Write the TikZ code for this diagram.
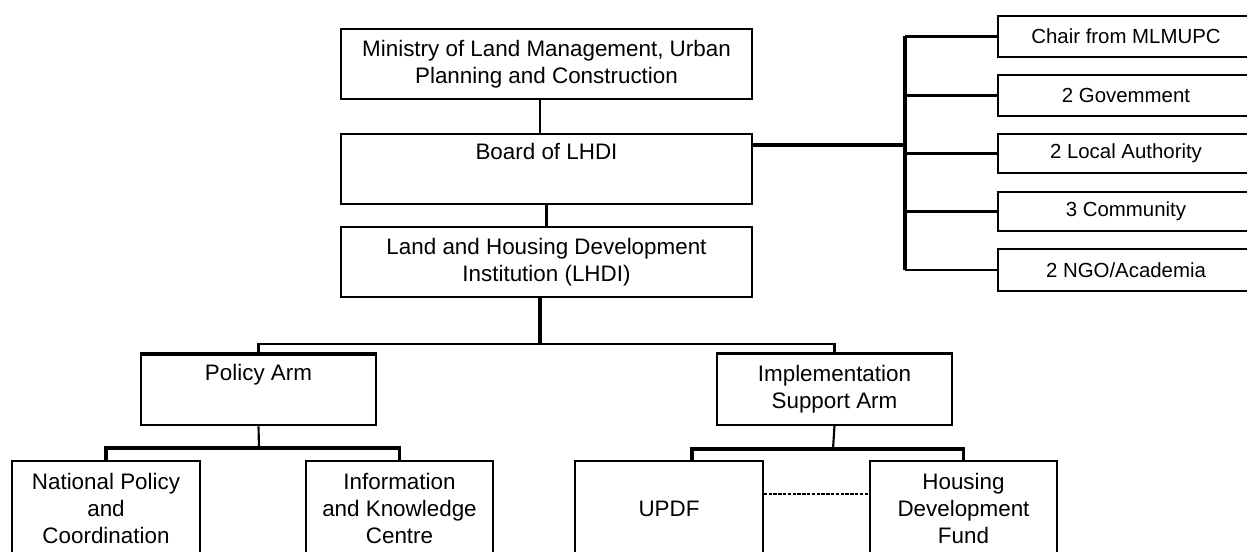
\documentclass[tikz,border=0pt]{standalone}
\usepackage{fontspec}
\setmainfont{Liberation Sans}
\begin{document}
\begin{tikzpicture}[x=0.75pt,y=-0.75pt,
  box/.style={draw, line width=1.5pt, inner sep=0pt, align=center, anchor=center, font=\fontsize{16.8}{20.2}\selectfont},
  wide/.style={box, minimum width=308.25pt, minimum height=52.5pt},
  arm/.style={box, minimum width=176.25pt, minimum height=53pt},
  unit/.style={box, minimum width=140.6pt, minimum height=71.25pt},
  rbox/.style={box, minimum width=192pt, font=\fontsize{15.3}{18}\selectfont},
  conn/.style={line width=1.6pt},
  heavy/.style={line width=2.4pt},
  bus/.style={line width=3pt},
  linkdots/.style={line width=1.8pt, dash pattern=on 2.6pt off 1pt}]
\useasboundingbox (0,0) rectangle (1247,552);
\fill[white] (0,0) rectangle (1247,552);
\clip (0,0) rectangle (1247,552);

% main column
\node[wide] (min) at (546.5,64) {Ministry of Land Management, Urban\\Planning and Construction};
\node[wide] (board) at (546.5,169) {Board of LHDI\\\strut};
\node[wide] (lhdi) at (546.5,262) {Land and Housing Development\\Institution (LHDI)};

% board members
\node[rbox, minimum height=30.75pt] (r1) at (1126,36.5) {Chair from MLMUPC};
\node[rbox, minimum height=30.75pt] (r2) at (1126,95.5) {2 Govemment};
\node[rbox, minimum height=29.25pt] (r3) at (1126,153.5) {2 Local Authority};
\node[rbox, minimum height=29.25pt] (r4) at (1126,211.5) {3 Community};
\node[rbox, minimum height=31.5pt] (r5) at (1126,270) {2 NGO/Academia};

% arms
\node[arm] (policy) at (258.5,390) {Policy Arm\\\strut};
\node[arm] (impl) at (834.5,389.5) {Implementation\\Support Arm};

% units
\node[unit] (natpol) at (106,508.5) {National Policy\\and\\Coordination};
\node[unit] (info) at (399.5,508.5) {Information\\and Knowledge\\Centre};
\node[unit] (updf) at (669,508.5) {UPDF};
\node[unit] (hdf) at (963.5,508.5) {Housing\\Development\\Fund};

% coordinates
\coordinate (lb) at (540,344);
\coordinate (rt) at (905,40);
\coordinate (pb) at (259,448);
\coordinate (ib) at (833,449);
\coordinate (ul) at (692,449);

% vertical spine
\draw[conn] (lb |- min.south) -- (lb |- board.north);
\draw[conn] (board.south) -- (lhdi.north);
\draw[heavy] (lb |- lhdi.south) -- (lb);

% board to members
\draw[heavy] ([yshift=18pt]board.east) -- ([yshift=18pt]board.east -| rt);
\draw[bus] (r1.west -| rt) -- (r5.west -| rt);
\draw[heavy] (r1.west -| rt) -- (r1.west);
\draw[heavy] (r2.west -| rt) -- (r2.west);
\draw[conn] (r3.west -| rt) -- (r3.west);
\draw[conn] (r4.west -| rt) -- (r4.west);
\draw[conn] (r5.west -| rt) -- (r5.west);

% bus to arms
\draw[conn] (policy.north) -- (policy.north |- lb) -- (impl.north |- lb) -- (impl.north);
\draw[heavy] (policy.north west) -- (policy.north east);
\draw[heavy] (impl.north west) -- (impl.north east);

% policy arm children
\draw[conn] (policy.south) -- (pb);
\draw[heavy] (natpol.north) -- (natpol.north |- pb) -- (info.north |- pb) -- (info.north);

% implementation arm children
\draw[conn] (impl.south) -- (ib);
\draw[heavy] (ul |- updf.north) -- (ul) -- (hdf.north |- ib) -- (hdf.north);

% dotted link
\draw[linkdots] ([yshift=10.9pt]updf.east) -- ([yshift=10.9pt]hdf.west);
\end{tikzpicture}
\end{document}
